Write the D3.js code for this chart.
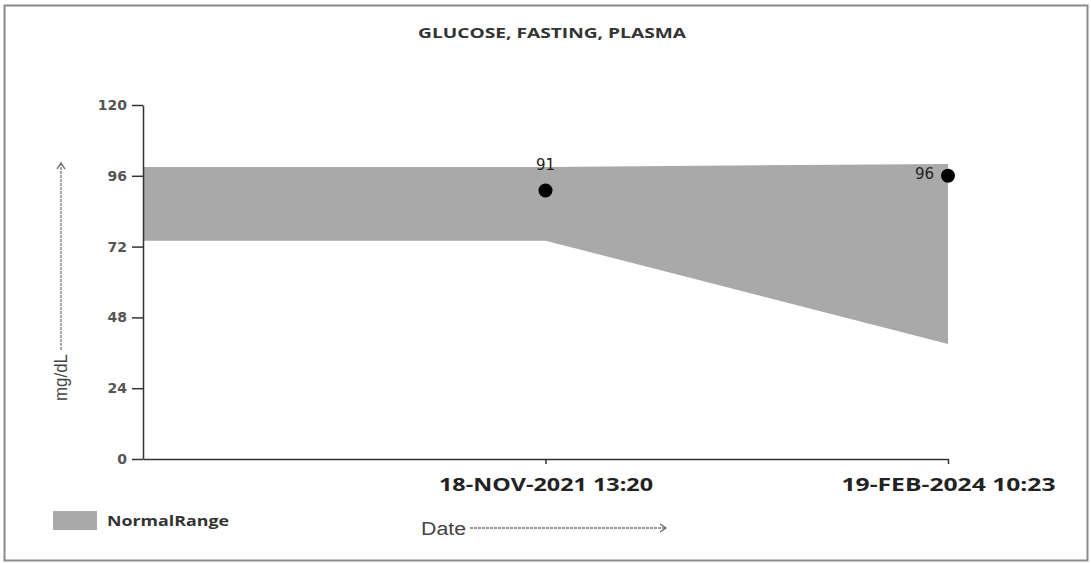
<!DOCTYPE html>
<html>
<head>
<meta charset="utf-8">
<script src="https://cdn.jsdelivr.net/npm/d3@7"></script>
<style>
  body { margin: 0; background: #fff; }
</style>
</head>
<body>
<div id="chart"></div>
<script>
// categories on the x axis ("" is the origin slot at the y axis)
const dates = ["", "18-NOV-2021 13:20", "19-FEB-2024 10:23"];
const rangeLow = [74, 74, 39];
const rangeHigh = [99, 99, 100];
const resultDates = ["18-NOV-2021 13:20", "19-FEB-2024 10:23"];
const resultValues = [91, 96];
const yTicks = [0, 24, 48, 72, 96, 120];

const W = 1091, H = 563;
const margin = { top: 105, left: 143, right: 143, bottom: 104 };
const width = 948 - margin.left;
const height = 459 - margin.top;

const svg = d3.select("#chart").append("svg")
    .attr("width", W)
    .attr("height", H);

// outer frame
svg.append("rect")
    .attr("x", 4.5).attr("y", 5.5)
    .attr("width", 1083).attr("height", 555)
    .attr("fill", "none")
    .attr("stroke", "#8a8a8a")
    .attr("stroke-width", 2);

svg.append("text")
    .attr("x", 418).attr("y", 38)
    .attr("font-family", "'Open Sans', sans-serif")
    .attr("font-size", "15px")
    .attr("font-weight", "bold")
    .attr("fill", "#333")
    .attr("textLength", 268)
    .attr("lengthAdjust", "spacingAndGlyphs")
    .text("GLUCOSE, FASTING, PLASMA");

const g = svg.append("g")
    .attr("transform", `translate(${margin.left},${margin.top})`);

const x = d3.scalePoint().domain(dates).range([0, width]);
const y = d3.scaleLinear().domain([0, 120]).range([height, 0]);

const band = dates.map((d, i) => ({ d, lo: rangeLow[i], hi: rangeHigh[i] }));

g.append("path")
    .datum(band)
    .attr("fill", "#a9a9a9")
    .attr("d", d3.area()
        .x(d => x(d.d))
        .y0(d => y(d.lo))
        .y1(d => y(d.hi)));

// y axis
const yAxis = g.append("g")
    .call(d3.axisLeft(y).tickValues(yTicks).tickSize(11).tickSizeOuter(0).tickPadding(5));
yAxis.selectAll("text")
    .attr("font-family", "'DejaVu Sans', sans-serif")
    .attr("font-size", "14px")
    .attr("font-weight", "bold")
    .attr("fill", "#555");
yAxis.selectAll("line, path").attr("stroke", "#333").attr("stroke-width", 1.5);

// x axis
const xAxis = g.append("g")
    .attr("transform", `translate(0,${height})`)
    .call(d3.axisBottom(x).tickValues(dates.slice(1)).tickSize(5).tickSizeOuter(0).tickPadding(14));
xAxis.selectAll("text")
    .attr("font-family", "'Open Sans', sans-serif")
    .attr("font-size", "18px")
    .attr("font-weight", "bold")
    .attr("fill", "#222")
    .attr("textLength", 214)
    .attr("lengthAdjust", "spacingAndGlyphs");
xAxis.selectAll("line, path").attr("stroke", "#333").attr("stroke-width", 1.5);

// result points
const pts = resultDates.map((d, i) => ({ d, v: resultValues[i], i }));
g.selectAll(".dot")
    .data(pts)
    .enter().append("circle")
    .attr("cx", d => x(d.d))
    .attr("cy", d => y(d.v))
    .attr("r", 7)
    .attr("fill", "#000");

g.selectAll(".val")
    .data(pts)
    .enter().append("text")
    .attr("x", d => d.i === 0 ? x(d.d) : x(d.d) - 14)
    .attr("y", d => d.i === 0 ? y(d.v) - 21 : y(d.v) + 3)
    .attr("text-anchor", d => d.i === 0 ? "middle" : "end")
    .attr("font-family", "'DejaVu Sans', sans-serif")
    .attr("font-size", "15px")
    .attr("fill", "#222")
    .text(d => d.v);

// axis titles with dotted arrow lines
const titleFont = "'Liberation Sans Narrow', 'Liberation Sans', Arial, sans-serif";
svg.append("text")
    .attr("transform", "translate(67,401) rotate(-90)")
    .attr("font-family", titleFont)
    .attr("font-size", "18px")
    .attr("fill", "#444")
    .attr("textLength", 47)
    .attr("lengthAdjust", "spacingAndGlyphs")
    .text("mg/dL");
svg.append("line")
    .attr("x1", 61).attr("y1", 350).attr("x2", 61).attr("y2", 164)
    .attr("stroke", "#777").attr("stroke-width", 1.3)
    .attr("stroke-dasharray", "3,1");
svg.append("path")
    .attr("d", "M57,169 L61,163 L65,169")
    .attr("fill", "none").attr("stroke", "#666").attr("stroke-width", 1.3);

svg.append("text")
    .attr("x", 421).attr("y", 535)
    .attr("font-family", titleFont)
    .attr("font-size", "18px")
    .attr("fill", "#444")
    .attr("textLength", 45)
    .attr("lengthAdjust", "spacingAndGlyphs")
    .text("Date");
svg.append("line")
    .attr("x1", 470).attr("y1", 528).attr("x2", 665).attr("y2", 528)
    .attr("stroke", "#777").attr("stroke-width", 1.3)
    .attr("stroke-dasharray", "3,1");
svg.append("path")
    .attr("d", "M660,524 L666,528 L660,532")
    .attr("fill", "none").attr("stroke", "#666").attr("stroke-width", 1.3);

// legend
svg.append("rect")
    .attr("x", 53).attr("y", 511)
    .attr("width", 44).attr("height", 19)
    .attr("fill", "#a9a9a9");
svg.append("text")
    .attr("x", 107).attr("y", 526)
    .attr("font-family", "'Open Sans', sans-serif")
    .attr("font-size", "14px")
    .attr("font-weight", "bold")
    .attr("fill", "#333")
    .attr("textLength", 122)
    .attr("lengthAdjust", "spacingAndGlyphs")
    .text("NormalRange");
</script>
</body>
</html>
